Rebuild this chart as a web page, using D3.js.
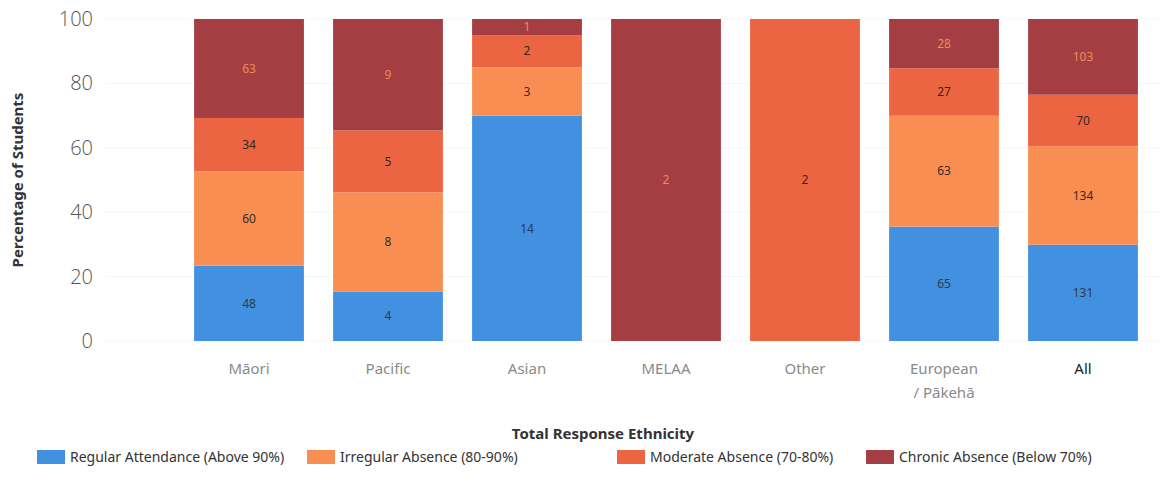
<!DOCTYPE html>
<html>
<head>
<meta charset="utf-8">
<script src="https://cdn.jsdelivr.net/npm/d3@7"></script>
<style>
  html, body { margin: 0; padding: 0; background: #fff; }
  svg { display: block; font-family: "Noto Sans", "Open Sans", sans-serif; }
</style>
</head>
<body>
<svg id="chart" width="1167" height="497"></svg>
<script>
// Student counts per ethnicity group and attendance band
const categories = ["Māori", "Pacific", "Asian", "MELAA", "Other", "European / Pākehā", "All"];
const seriesNames = [
  "Regular Attendance (Above 90%)",
  "Irregular Absence (80-90%)",
  "Moderate Absence (70-80%)",
  "Chronic Absence (Below 70%)"
];
const regular   = [48, 4, 14, 0, 0, 65, 131];
const irregular = [60, 8, 3, 0, 0, 63, 134];
const moderate  = [34, 5, 2, 0, 2, 27, 70];
const chronic   = [63, 9, 1, 2, 0, 28, 103];
const yTicks = [0, 20, 40, 60, 80, 100];

const colors = ["#4290e0", "#f98e52", "#eb6543", "#a43e42"];
const labelColors = ["#2f3b4a", "#3a2a20", "#3a2420", "#f08a5c"];

const seriesValues = [regular, irregular, moderate, chronic];
const rows = categories.map((c, i) => {
  const row = { category: c };
  const total = d3.sum(seriesValues, s => s[i]);
  seriesNames.forEach((n, k) => {
    row[n] = seriesValues[k][i] / total * 100;
    row[n + "_count"] = seriesValues[k][i];
  });
  return row;
});

const svg = d3.select("#chart");
const x = d3.scaleBand().domain(categories).range([179.5, 1152.5]).paddingInner(0.21).paddingOuter(0.105);
const y = d3.scaleLinear().domain([0, 100]).range([341, 19]);

// faint gridlines
svg.append("g")
  .selectAll("line")
  .data(yTicks)
  .join("line")
  .attr("x1", 105).attr("x2", 1160)
  .attr("y1", d => y(d)).attr("y2", d => y(d))
  .attr("stroke", "#f7f7f7").attr("stroke-width", 1);

// y axis tick labels
const yAxis = svg.append("g")
  .attr("transform", "translate(93,0)")
  .call(d3.axisLeft(y).tickValues(yTicks).tickSize(0).tickPadding(0));
yAxis.select(".domain").remove();
yAxis.selectAll("text")
  .attr("font-size", 20)
  .attr("fill", "#555")
  .attr("font-family", "'Open Sans', 'Noto Sans', sans-serif")
  .attr("font-weight", 300);

// stacked bars
const stack = d3.stack().keys(seriesNames);
const stacked = stack(rows);

const groups = svg.append("g")
  .selectAll("g")
  .data(stacked)
  .join("g")
  .attr("fill", (d, i) => colors[i]);

groups.selectAll("rect")
  .data(d => d.map(p => ({ p, key: d.key })))
  .join("rect")
  .attr("x", d => x(d.p.data.category))
  .attr("width", x.bandwidth())
  .attr("y", d => y(d.p[1]))
  .attr("height", d => y(d.p[0]) - y(d.p[1]));

// segment count labels
stacked.forEach((layer, k) => {
  svg.append("g")
    .selectAll("text")
    .data(layer.filter(p => p.data[layer.key + "_count"] > 0))
    .join("text")
    .attr("x", p => x(p.data.category) + x.bandwidth() / 2)
    .attr("y", p => (y(p[0]) + y(p[1])) / 2)
    .attr("dy", "0.35em")
    .attr("text-anchor", "middle")
    .attr("font-size", 12)
    .attr("fill", labelColors[k])
    .text(p => p.data[layer.key + "_count"]);
});

// x axis labels
const xLabels = svg.append("g");
categories.forEach(c => {
  const cx = x(c) + x.bandwidth() / 2;
  const lines = c === "European / Pākehā" ? ["European", "/ Pākehā"] : [c];
  const t = xLabels.append("text")
    .attr("x", cx).attr("y", 374)
    .attr("text-anchor", "middle")
    .attr("font-size", 15)
    .attr("fill", c === "All" ? "#222" : "#8a8a8a");
  lines.forEach((l, i) => {
    t.append("tspan").attr("x", cx).attr("dy", i === 0 ? 0 : 24).text(l);
  });
});

// axis titles
svg.append("text")
  .attr("transform", "translate(23,180) rotate(-90)")
  .attr("text-anchor", "middle")
  .attr("font-size", 15)
  .attr("font-weight", "bold")
  .attr("fill", "#333")
  .text("Percentage of Students");

svg.append("text")
  .attr("x", 603).attr("y", 439)
  .attr("text-anchor", "middle")
  .attr("font-size", 15)
  .attr("font-weight", "bold")
  .attr("fill", "#333")
  .text("Total Response Ethnicity");

// legend
const legendX = [37, 307, 617, 866];
const legend = svg.append("g")
  .selectAll("g")
  .data(seriesNames)
  .join("g")
  .attr("transform", (d, i) => `translate(${legendX[i]},450)`);
legend.append("rect")
  .attr("width", 28).attr("height", 14)
  .attr("fill", (d, i) => colors[i]);
legend.append("text")
  .attr("x", 33).attr("y", 7).attr("dy", "0.35em")
  .attr("font-size", 14)
  .attr("fill", "#333")
  .text(d => d);
</script>
</body>
</html>
